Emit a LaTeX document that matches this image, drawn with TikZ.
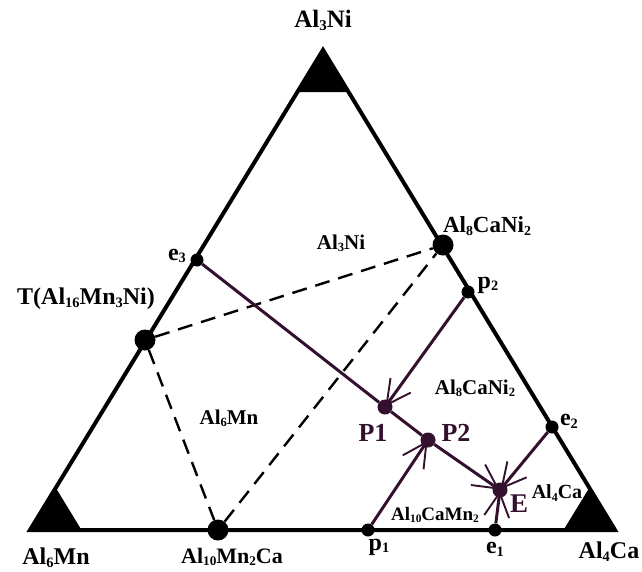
\documentclass[tikz,border=0pt]{standalone}
\usepackage{fontspec}
\setmainfont{Liberation Serif}
\usepackage{tikz}
\usetikzlibrary{arrows.meta,positioning,calc}

\definecolor{liqpurple}{RGB}{52,16,47}
\newdimen\lblsize
\newcommand{\sbs}[1]{\raisebox{-0.25ex}{\fontsize{0.6\lblsize}{0pt}\selectfont #1}}

\begin{document}
\begin{tikzpicture}[x=1pt,y=-1pt,
    bigdot/.style={circle,fill=black,inner sep=0pt,minimum size=21pt},
    smalldot/.style={circle,fill=black,inner sep=0pt,minimum size=13pt},
    liqdot/.style={circle,fill=liqpurple,inner sep=0pt,minimum size=15pt},
    lbl/.style={inner sep=0pt,font={\lblsize=#1pt\bfseries\fontsize{#1}{#1}\selectfont}},
    lbl/.default=22,
    tie/.style={line width=2.4pt,dash pattern=on 15pt off 9pt},
    valley/.style={draw=liqpurple,line width=3pt},
    flow/.style={valley,shorten >=-7pt,-{Straight Barb[length=24pt,width=25pt,line width=1.9pt]}}]
    \useasboundingbox (0,0) rectangle (642,571);

    % Triangle with corner phases
    \coordinate (A) at (323,50);
    \coordinate (B) at (30,530);
    \coordinate (C) at (615,530);
    \foreach \v/\p/\q in {A/B/C, B/A/C, C/A/B} {
        \fill ($(\v)!0.088!(\p)$) -- (\v) -- ($(\v)!0.088!(\q)$) -- cycle;
    }
    \draw[line width=4pt,line join=miter] (A) -- (B) -- (C) -- cycle;

    % Compounds
    \node[bigdot] (T) at (145,340) {};
    \node[bigdot] (acn) at (443,245) {};
    \node[bigdot] (amc) at (218,530) {};

    % Tie lines
    \draw[tie] (T) -- (acn);
    \draw[tie] (T) -- (amc);
    \draw[tie] (amc) -- (acn);

    % Points on the edges and inside
    \foreach \n/\x/\y in {e3/197/260, p2/468/292, e2/552/427, e1/495/530, p1/368/530} {
        \node[smalldot] (\n) at (\x,\y) {};
    }
    \foreach \n/\x/\y in {P1/385/407, P2/428/440, E/500/490} {
        \node[liqdot] (\n) at (\x,\y) {};
    }

    % Liquidus valleys
    \draw[valley] (e3) -- (P1);
    \draw[valley] (P1) -- (P2);
    \draw[flow] (p2) -- (P1);
    \draw[flow] (p1) -- (P2);
    \draw[flow] (P2) -- (E);
    \draw[flow] (e2) -- (E);
    \draw[flow] (e1) -- (E);

    % Labels
    \node[lbl=25] (lA) at (323,20) {Al\sbs{3}Ni};
    \node[lbl=24] (lB) at (56,558) {Al\sbs{6}Mn};
    \node[lbl=24] (lC) at (609,552) {Al\sbs{4}Ca};
    \node[lbl=24] (lT) at (86,299) {T(Al\sbs{16}Mn\sbs{3}Ni)};
    \node[lbl=23] (lacn) at (487,226) {Al\sbs{8}CaNi\sbs{2}};
    \node[lbl=22] (lamc) at (232,557) {Al\sbs{10}Mn\sbs{2}Ca};
    \node[lbl=21] (rA) at (341,243) {Al\sbs{3}Ni};
    \node[lbl=21] (rB) at (229,418) {Al\sbs{6}Mn};
    \node[lbl=21] (racn) at (475,388) {Al\sbs{8}CaNi\sbs{2}};
    \node[lbl=19] (ramc) at (435,515) {Al\sbs{10}CaMn\sbs{2}};
    \node[lbl=20] (rC) at (557,493) {Al\sbs{4}Ca};
    \node[lbl=24] (le3) at (177,256) {e\sbs{3}};
    \node[lbl=24] (lp2) at (488,285) {p\sbs{2}};
    \node[lbl=24] (le2) at (569,421) {e\sbs{2}};
    \node[lbl=24] (lp1) at (379,547) {p\sbs{1}};
    \node[lbl=24] (le1) at (495,549) {e\sbs{1}};
    \node[lbl=26,text=liqpurple] (lP1) at (373,433) {P1};
    \node[lbl=26,text=liqpurple] (lP2) at (456,433) {P2};
    \node[lbl=27,text=liqpurple] (lE) at (519,504) {E};
\end{tikzpicture}
\end{document}
